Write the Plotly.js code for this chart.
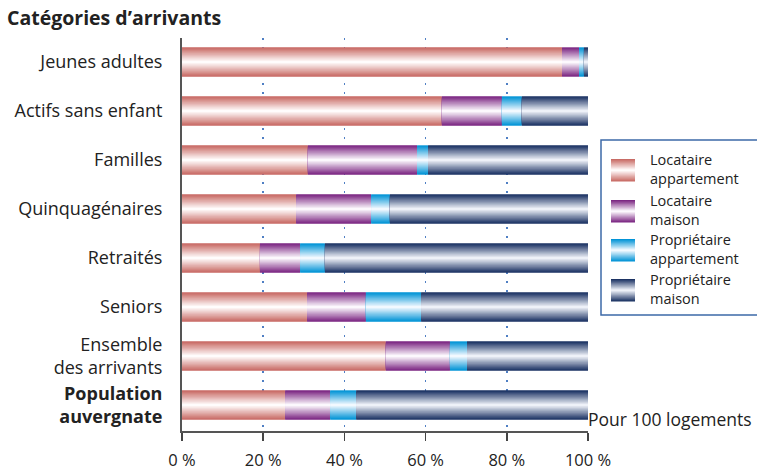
<!DOCTYPE html>
<html>
<head>
<meta charset="utf-8">
<script src="https://cdn.plot.ly/plotly-3.0.1.min.js"></script>
<style>html,body{margin:0;padding:0;background:#fff}#chart{width:757px;height:470px}</style>
</head>
<body>
<div id="chart"></div>
<script>
// ---- Data ----
const categories = ['Jeunes adultes', 'Actifs sans enfant', 'Familles', 'Quinquagénaires', 'Retraités', 'Seniors', 'Ensemble<br>des arrivants', '<b>Population<br>auvergnate</b>'];
const seriesNames = ['Locataire<br>appartement', 'Locataire<br>maison', 'Propriétaire<br>appartement', 'Propriétaire<br>maison'];
const locataireAppartement = [93.6, 64.0, 31.0, 28.1, 19.2, 30.8, 50.2, 25.4];
const locataireMaison = [4.2, 14.8, 26.9, 18.5, 9.9, 14.5, 15.8, 11.1];
const proprietaireAppartement = [1.2, 4.9, 2.7, 4.6, 6.1, 13.6, 4.2, 6.4];
const proprietaireMaison = [1.0, 16.3, 39.4, 48.8, 64.8, 41.1, 29.8, 57.1];
const xTickVals = [0, 20, 40, 60, 80, 100];
const xTickText = ['0 %', '20 %', '40 %', '60 %', '80 %', '100 %'];

// ---- Styles ----
const edgeColors = [[200, 106, 100], [123, 38, 130], [0, 147, 214], [27, 50, 99]];
const centerColors = [[255, 252, 252], [252, 248, 253], [242, 249, 255], [238, 241, 248]];
const FONT = '"Open Sans", Lato, sans-serif';
const N = 14;
const BARW = 0.6;

function mix(a, b, t) {
  return 'rgb(' + a.map((v, i) => Math.round(v + (b[i] - v) * t)).join(',') + ')';
}

const series = [locataireAppartement, locataireMaison, proprietaireAppartement, proprietaireMaison];
const traces = [];
const cum = categories.map(() => 0);
series.forEach((vals, s) => {
  const base = cum.slice();
  for (let i = 0; i < N; i++) {
    const f = 1 - i / N;
    const t = i / (N - 1);
    traces.push({
      type: 'bar', orientation: 'h',
      y: categories, x: vals, base: base,
      width: BARW * f,
      marker: {color: mix(edgeColors[s], centerColors[s], t), line: {width: 0}},
      hoverinfo: 'skip', showlegend: false
    });
  }
  vals.forEach((v, k) => { cum[k] += v; });
});

// ---- Layout geometry (pixels) ----
const L = 182, R = 588, T = 38, B = 431;
const px = x => (x - L) / (R - L);
const py = y => (B - y) / (B - T);

const shapes = [];
const annotations = [];
// legend box
shapes.push({type: 'rect', xref: 'paper', yref: 'paper', x0: px(601), x1: px(760), y0: py(315), y1: py(140),
  line: {color: '#3d6aa8', width: 1.5}, fillcolor: 'rgba(0,0,0,0)'});
const swTops = [159, 200, 239, 279];
const SWH = 22.5;
seriesNames.forEach((name, s) => {
  const top = swTops[s], mid = top + SWH / 2;
  for (let i = 0; i < N; i++) {
    const f = 1 - i / N;
    const t = i / (N - 1);
    shapes.push({type: 'rect', xref: 'paper', yref: 'paper', x0: px(611), x1: px(635),
      y0: py(mid + SWH / 2 * f), y1: py(mid - SWH / 2 * f),
      line: {width: 0}, fillcolor: mix(edgeColors[s], centerColors[s], t)});
  }
  annotations.push({xref: 'paper', yref: 'paper', x: px(648), y: py(mid - 1), xanchor: 'left', yanchor: 'middle',
    text: name, showarrow: false, align: 'left', font: {family: FONT, size: 14.5, color: '#222'}});
});
annotations.push({xref: 'paper', yref: 'paper', x: px(586), y: py(419), xanchor: 'left', yanchor: 'middle',
  text: 'Pour 100 logements', showarrow: false, font: {family: FONT, size: 17.5, color: '#222'}});

const layout = {
  width: 757, height: 470,
  margin: {l: L, r: 757 - R, t: T, b: 470 - B, pad: 0},
  paper_bgcolor: '#fff', plot_bgcolor: '#fff',
  barmode: 'overlay',
  showlegend: false,
  font: {family: FONT, size: 16, color: '#222'},
  title: {text: '<b>Catégories d’arrivants</b>', xref: 'container', yref: 'container',
    x: 7 / 757, xanchor: 'left', y: 1 - 18 / 470, yanchor: 'middle',
    font: {family: FONT, size: 19.5, color: '#222'}},
  xaxis: {range: [0, 100], tickvals: xTickVals, ticktext: xTickText,
    showgrid: true, gridcolor: '#4f7fc4', gridwidth: 1.5, griddash: '1.5px,7.5px',
    showline: true, linecolor: '#555', linewidth: 1.5,
    ticks: 'outside', ticklen: 8, tickwidth: 1.5, tickcolor: '#444',
    ticklabelstandoff: 6, zeroline: false,
    tickfont: {family: FONT, size: 16.5, color: '#222'}, fixedrange: true},
  yaxis: {type: 'category', range: [7.53, -0.49], showgrid: false,
    showline: true, linecolor: '#555', linewidth: 2, ticks: '',
    ticklabelstandoff: 14, zeroline: false,
    tickfont: {family: FONT, size: 18, color: '#222'}, fixedrange: true},
  shapes: shapes,
  annotations: annotations
};

Plotly.newPlot('chart', traces, layout, {displayModeBar: false, staticPlot: true});
</script>
</body>
</html>
